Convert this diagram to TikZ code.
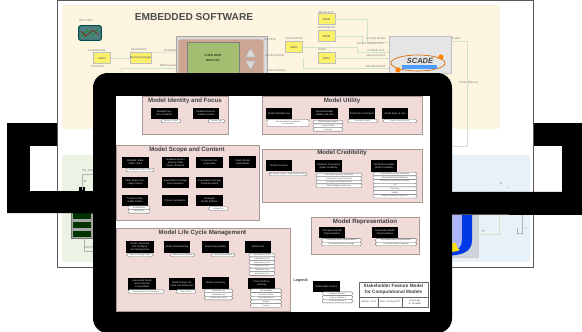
\documentclass[tikz,border=0pt]{standalone}
\usepackage{fontspec}
\setmainfont{Liberation Sans}
\usepackage{xcolor}
\definecolor{pagecream}{HTML}{FDF5E0}
\definecolor{pagegreen}{HTML}{EBF3E5}
\definecolor{pageblue}{HTML}{E8F0F8}
\definecolor{panelpink}{HTML}{F0DBD9}
\definecolor{panelrim}{HTML}{A89898}
\definecolor{gainyellow}{HTML}{FBF06A}
\definecolor{wiregreen}{HTML}{CFE3CA}
\definecolor{devicebrown}{HTML}{CDA593}
\definecolor{screengreen}{HTML}{A3BE70}
\tikzset{
    panelbox/.style={draw=panelrim,fill=panelpink,line width=0.6pt},
    paneltitle/.style={font=\fontsize{4.6}{5}\selectfont\bfseries,text=black!75,inner sep=0pt},
    featbox/.style={fill=black,text=white!85!black,font=\fontsize{1.8}{2.2}\selectfont,align=center,text width=18pt,minimum width=20pt,minimum height=8.4pt,inner sep=0pt},
    featpill/.style={draw=black!60,fill=white,rounded corners=1pt,line width=0.25pt,font=\fontsize{1.5}{1.8}\selectfont,minimum height=2.7pt,inner sep=0pt,text=black!70},
    gainbox/.style={draw=black!25,fill=gainyellow,font=\fontsize{2.2}{3}\selectfont,text=black!70,minimum width=12.5pt,minimum height=8pt,inner sep=0pt},
    wirelabel/.style={font=\fontsize{2.2}{3}\selectfont,text=black!50,inner sep=0pt},
    wire/.style={draw=wiregreen,line width=0.5pt},
    blockcell/.style={font=\fontsize{1.8}{2.2}\selectfont,align=center,text=black!75,inner sep=0pt},
}
\begin{document}
\begin{tikzpicture}[x=0.75pt,y=-0.75pt]
\useasboundingbox (0,0) rectangle (582,332);
% frame behind the page
\fill[black] (7,123) rectangle (60,146);
\fill[black] (7,146) rectangle (30,191);
\fill[black] (530,123) rectangle (582,146);
\fill[black] (562,146) rectangle (582,192);
% page
\draw[fill=white,draw=black!65,line width=0.7pt] (57,0) rectangle (533,267);
\fill[pagecream] (62,5) rectangle (500,129);
\fill[pagegreen] (62,155) rectangle (260,262);
\fill[pageblue] (260,155) rectangle (530,262);
% embedded software sheet
\node[font=\fontsize{7.6}{9}\selectfont\bfseries,text=black!70,inner sep=0pt] (softtitle) at (194,17) {EMBEDDED SOFTWARE};
\node[draw=teal!60!black,fill=teal!55!black!70,line width=0.8pt,rounded corners=1.5pt,minimum width=17pt,minimum height=11pt,inner sep=0pt] (scopeicon) at (90,33) {};
\draw[green!60!black,line width=0.3pt] (81,37) -- (88,30) -- (92,36) -- (99,28);
\draw[red!60!black,line width=0.3pt] (81,31) -- (86,36) -- (93,30) -- (99,35);
\node[wirelabel] at (86,20) {DIR VIEW};
\node[gainbox] (levelgain) at (102,58) {GAIN};
\node[gainbox] (flowgain) at (140.5,58) {Moving Average};
\node[gainbox] (setgain) at (294,47) {GAIN};
\node[gainbox] (resetgain) at (326.5,19) {GAIN};
\node[gainbox] (valvegain) at (326.5,36) {GAIN};
\node[gainbox] (holdgain) at (326.5,58) {MED};
\node[wirelabel] at (97,50) {LevelVariable};
\node[wirelabel] at (97,66) {Threshold};
\node[wirelabel] at (139,49) {FlowSensor};
\node[wirelabel] at (170,50) {FlowRate};
\node[wirelabel] at (168,66) {BatteryLevel};
\node[wirelabel] at (294,38) {ControlReset};
\node[wirelabel] at (326,12) {AlarmLatch};
\node[wirelabel] at (326,28) {ValveSetpoint};
\node[wirelabel] at (322,49) {HILIM};
\node[draw=black!35,fill=black!15,line width=0.5pt,minimum width=68pt,minimum height=32pt,inner sep=0pt,anchor=north west] (display) at (176,36) {};
\node[fill=devicebrown,rounded corners=2pt,minimum width=64pt,minimum height=30pt,inner sep=0pt,anchor=north west] (displaybody) at (178,39) {};
\node[draw=black!50,fill=screengreen,minimum width=39pt,minimum height=24pt,inner sep=0pt,font=\fontsize{2.2}{3}\selectfont,align=center] (lcd) at (213,58) {FLOW RATE\\[1pt]0000 ml/hr};
\fill[black!15,draw=black!35,line width=0.2pt] (250.5,48) -- (255.5,57) -- (245.5,57) -- cycle;
\fill[black!15,draw=black!35,line width=0.2pt] (250.5,70) -- (255.5,61) -- (245.5,61) -- cycle;
\node[draw=black!25,fill=black!10,minimum width=46.5pt,minimum height=28pt,inner sep=0pt,anchor=north west] (scadepanel) at (389,36) {};
\draw[orange!85!black,line width=0.5pt] (418,63) ellipse (27 and 8);
\fill[blue!55!cyan!70] (402,65) rectangle (437,69);
\node[font=\fontsize{5.6}{6}\selectfont\bfseries\itshape,text=black!75,inner sep=0pt] (scadelogo) at (420,61) {SCADE};
\fill[orange] (441,57) circle (2.6);
\fill[orange] (398,70) circle (2.6);
\coordinate (busin1) at (389,42);
\coordinate (busin2) at (389,52);
\coordinate (busin3) at (389,58);
\coordinate (busin4) at (389,68);
\coordinate (busout) at (451,41);
\coordinate (busdrop) at (453,146);
\coordinate (battery) at (121,68);
\coordinate (batteryin) at (176,68);
\coordinate (flowin) at (176,52);
\draw[wire] (levelgain.east) -- (flowgain.west);
\draw[wire] (flowgain.north east) -- (flowin);
\draw[wire] (battery) -- (batteryin);
\draw[wire] (battery) -- (121,74);
\draw[wire] (resetgain.east) -| (367,42) -- (busin1);
\draw[wire] (valvegain.east) -- (362,36) -- (362,45);
\draw[wire] (setgain.east) -- (357,47) |- (busin2);
\draw[wire] (holdgain.east) -- (busin3);
\draw[wire] (303,58) -- (303,68) -- (busin4);
\draw[wire] (busout) -| (467,146) -- (busdrop);
\node[wirelabel] at (376,39) {Curring Modes};
\node[wirelabel] at (370,44) {Current setpoint limit};
\node[wirelabel] at (376,50) {ProfileIn Unit};
\node[wirelabel] at (376,56) {MainLoop Unit};
\node[wirelabel] at (376,66) {BatchSizeUNIT};
\node[wirelabel] at (456,39) {Engine};
\node[wirelabel] at (469,83) {Pulse Delivery};
\node[wirelabel] at (275,56) {MonitorDisplay};
\node[wirelabel] at (270,39) {DROPtilt};
\node[wirelabel] at (277,71) {AlarmDisplay};
% control loop sheet
\node[draw=black!55,fill=black!35,line width=0.8pt,minimum width=16.5pt,minimum height=19pt,inner sep=0pt,anchor=north west] (tabstack) at (71,213) {};
\foreach \rowy in {213,222,231} {
    \fill[black!80!green] (73,\rowy) rectangle (91,\rowy+5.5);
}
\coordinate (tabtop) at (82,190);
\coordinate (tabtopin) at (93,174);
\coordinate (tabout) at (93,251);
\fill[black] (79,187) rectangle (85,191);
\draw[black!30,line width=0.4pt] (tabtop) |- (tabtopin);
\draw[black!30,line width=0.4pt] (84,238) |- (tabout);
\node[wirelabel] at (88,171) {KB\_SAT};
\node[wirelabel] at (85,181) {W};
\node[wirelabel] at (90,247) {SWITCH};
\fill[black!12!pageblue,draw=black!20,line width=0.2pt] (450,215) rectangle (478,257);
\fill[blue!25!pageblue] (453,215) rectangle (462,250);
\fill[blue!75!cyan!90!black] (462,215) -- (472,215) -- (472,240) .. controls (472,250) and (465,255) .. (450,255.5) -- (450,252) .. controls (458,251) and (462,247) .. (462,240) -- cycle;
\fill[yellow!85!orange] (450,243) -- (456,243) .. controls (457,248) and (458,250) .. (460,250) .. controls (456,251.5) and (453,252) .. (450,252) -- cycle;
\coordinate (fieldtop) at (499,215);
\coordinate (fieldin) at (478,234);
\draw[wire] (fieldtop) |- (fieldin);
\draw[black!30,line width=0.4pt] (522,215) -- (522,233) -- (517,233) -- (517,228);
\draw[wire] (495,191) arc (180:0:5);
\node[wirelabel] at (483,232) {T5};
\node[wirelabel] at (526,228) {Y};
\node[wirelabel] at (501,184) {m};
\node[wirelabel] at (508,188) {r};
\node[wirelabel] at (457,262) {:};
% front band and tablet
\fill[black] (7,191) -- (582,192) -- (582,215) -- (7,213) -- cycle;
\fill[black,rounded corners=11pt] (93,73) rectangle (452,333);
\fill[white] (116,96) rectangle (430,312);
% panels
\draw[panelbox] (142,96) rectangle (228,134);
\node[paneltitle] (identitytitle) at (185,101) {Model Identity and Focus};
\node[featbox] (sysint) at (164.5,113.5) {Modeled System of Interest};
\node[featbox] (envctx) at (206,113.5) {Modeled Environmental Context};
\node[featpill,minimum width=15pt] (sysctx) at (171,121) {System Context};
\node[featpill,minimum width=12.5pt] (envtype) at (216.5,121) {Context Type};
\draw[panelbox] (262,96) rectangle (422,134);
\node[paneltitle] (utilitytitle) at (342,101) {Model Utility};
\node[featbox] (intuse) at (279,113.5) {Model Intended Use};
\node[featbox] (reqfid) at (324.5,113.5) {Required Model Fidelity and Use};
\node[featbox] (timecost) at (362,113.5) {Time/Cost Constraints};
\node[featbox] (easeuse) at (395,113.5) {Model Ease of Use};
\node[featpill,minimum width=31.5pt,minimum height=5.6pt,align=center] (usepill) at (288,123) {Use of model to be defined\\for each user};
\foreach \txt [count=\i] in {Model fidelity needed,Level of detail,Cost limit} {
    \node[featpill,minimum width=22.5pt] (reqfid\i) at (328,{118.5+3.6*\i}) {\txt};
}
\node[featpill,minimum width=22pt] (timepill) at (362.5,121) {Constraint Levels};
\node[featpill,minimum width=25.5pt] (easepill) at (400,121) {Ease of use of model};
\draw[panelbox] (116,145) rectangle (259,220);
\node[paneltitle] (scopetitle) at (187,150) {Model Scope and Content};
\node[featbox] (stakeval) at (135.5,162.5) {Modeled Stakeholder Value};
\node[featbox] (extstate) at (175.5,162.5) {Modeled System External State Space (Ambient)};
\node[featbox] (propdec) at (209.5,162.5) {Proprietary Decomposition};
\node[featbox] (futuse) at (242.5,162) {Future Model Uses/Needs};
\node[featpill,minimum width=21pt] (stakepill) at (140,170) {Stakeholder Value Trade};
\node[featbox] (stategap) at (135,182.5) {State-Space Coverage Criteria};
\node[featbox] (execcov) at (175.5,182.5) {Executable Coverage Documentation};
\node[featbox] (execcon) at (209.5,182.5) {Executable Coverage Characterization};
\node[featbox] (trustcfg) at (135,200.5) {Trusted Configurable Pattern};
\node[featbox] (physlim) at (175,200.5) {Physics Limitations};
\node[featbox] (managed) at (209.5,200.5) {Managed Model Artifacts};
\node[featpill,minimum width=16.5pt] (trust1) at (139,207.7) {Configuration};
\node[featpill,minimum width=16.5pt] (trust2) at (139,211.3) {Library Size};
\node[featpill,minimum width=14.5pt] (managepill) at (218.5,208.5) {Artifact List};
\draw[panelbox] (262,149) rectangle (422,202);
\node[paneltitle] (credtitle) at (342,153) {Model Credibility};
\node[featbox] (envelope) at (279,165.5) {Model Envelope};
\node[featbox] (valcred) at (328.5,166) {Validation Conceptual Model Credibility};
\node[featbox] (vercred) at (384,166) {Verified Executable Model Credibility};
\node[featpill,minimum width=28.5pt] (envpill) at (288,174) {Envelope Limits of Valid Model Fidelity};
\foreach \txt [count=\i] in {Conceptual Accuracy Reference,Conceptual Scope Reference,Conceptual Assumption Basis,Model Validation Reference} {
    \node[featpill,minimum width=34.5pt] (valcred\i) at (339,{171.3+3.6*\i}) {\txt};
}
\foreach \txt [count=\i] in {Executable Accuracy Reference,Executable Scope Reference,Numerical Uncertainty Reference,UQ,Sensitivity,Stability,Model Verification Reference} {
    \node[featpill,minimum width=33pt] (vercred\i) at (395,{170.3+3.7*\i}) {\txt};
}
\draw[panelbox] (116,228) rectangle (290,311);
\node[paneltitle] (lifetitle) at (202.5,233) {Model Life Cycle Management};
\node[featbox,minimum width=21pt] (versioning) at (140,247) {Model Versioning and Configuration Management};
\node[featbox] (maintain) at (177,247) {Model Maintainability};
\node[featbox] (deploy) at (215.5,247) {Model Deployability};
\node[featbox] (modcost) at (258,247) {Model Cost};
\node[featpill,minimum width=19.5pt] (versionpill) at (140,255) {Version Change Policy};
\node[featpill,minimum width=18pt] (maintpill) at (182.5,255) {Maintenance Method};
\node[featpill,minimum width=18pt] (deploypill) at (223,255) {Deployment Method};
\foreach \txt [count=\i] in {Development Cost,Operational Cost,Maintenance Cost,Retirement Cost,Validation Cost,Verification Cost} {
    \node[featpill,minimum width=19.5pt] (modcost\i) at (262,{251.4+3.7*\i}) {\txt};
}
\node[featbox,minimum width=21pt] (envcompat) at (142,284) {Executable Model Environmental Compatibility};
\node[featbox] (retire) at (182,284) {Model Design Life Cycle and Retirement};
\node[featbox] (conform) at (215.5,283) {Model Conformity};
\node[featbox] (crosslearn) at (261.5,283.5) {Cross-Platform Learning};
\node[featpill,minimum width=27pt] (compatpill) at (146,291.5) {Target Execution Environment};
\node[featpill,minimum width=15pt] (retirepill) at (186,291.5) {Retire Policy};
\foreach \txt [count=\i] in {Standards List,Standard Level,Conformance Test} {
    \node[featpill,minimum width=21.5pt] (conform\i) at (218.5,{287.3+3.6*\i}) {\txt};
}
\foreach \txt [count=\i] in {Transferability,Sources of Data,Learning Method,Weight,Privacy} {
    \node[featpill,minimum width=23.5pt] (crosslearn\i) at (266,{287+3.7*\i}) {\txt};
}
\draw[panelbox] (311,217) rectangle (419,254);
\node[paneltitle] (reprtitle) at (365,222) {Model Representation};
\node[featbox] (conceptrep) at (332,232.5) {Conceptual Model Representation};
\node[featbox] (execrep) at (385,232.5) {Executable Model Representation};
\foreach \txt [count=\i] in {Conceptual Model Representation,Conceptual Model Language} {
    \node[featpill,minimum width=30pt] (conceptrep\i) at (341.5,{236.8+3.6*\i}) {\txt};
}
\foreach \txt [count=\i] in {Executable Model Representation,Executable Model Language} {
    \node[featpill,minimum width=31pt] (execrep\i) at (396,{236.8+3.6*\i}) {\txt};
}
% legend and title block
\node[font=\fontsize{2.8}{3}\selectfont\bfseries,text=black!75,inner sep=0pt] (legend) at (301,281) {Legend:};
\node[featbox] (legendbox) at (326.5,286.5) {Stakeholder Feature};
\foreach \txt [count=\i] in {Feature Attribute 1,Feature Attribute 2,Feature Attribute 3} {
    \node[featpill,minimum width=23pt] (legendpill\i) at (337.5,{290+3.7*\i}) {\txt};
}
\node[draw=black!60,fill=white,line width=0.4pt,minimum width=51.5pt,minimum height=18.7pt,inner sep=0pt,anchor=north west] (titleblock) at (359,282) {};
\draw[black!60,line width=0.3pt] (359,297) -- (428,297) (378,297) -- (378,307) (402,297) -- (402,307);
\node[font=\fontsize{3.5}{4.6}\selectfont\bfseries,text=black!75,align=center,inner sep=0pt] (blocktitle) at (393.5,289.5) {Stakeholder Feature Model\\for Computational Models};
\node[blockcell] (blockver) at (368.5,302) {Version: 1.0.4};
\node[blockcell] (blockdate) at (390,302) {Date: 21 Aug 2017};
\node[blockcell] (blockby) at (415,302) {Drawn By:\\E. Scheible};
\end{tikzpicture}
\end{document}
